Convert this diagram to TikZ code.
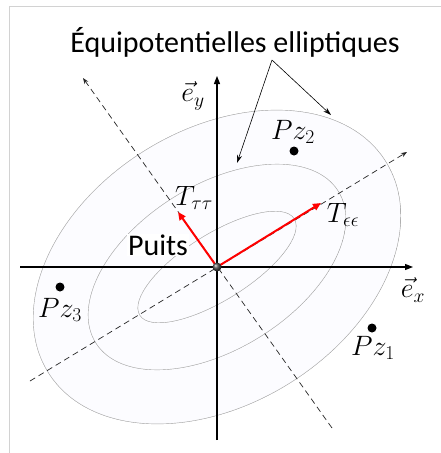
\RequirePackage{fix-cm}
\documentclass[tikz,border=0pt]{standalone}
\usepackage{fontspec}
\setmainfont{Carlito}
\usetikzlibrary{arrows.meta}
\newcommand\shellipse[2]{%
  \fill[gray!75, rotate around={32:(O)}] (O) ellipse [x radius=#1, y radius=#2];
  \begin{scope}
    \clip[rotate around={32:(O)}] (O) ellipse [x radius=#1, y radius=#2];
    \fill[gray!45, xshift=-1pt, yshift=0.4pt, rotate around={32:(O)}] (O) ellipse [x radius=#1, y radius=#2];
    \fill[gray!22, xshift=-2pt, yshift=0.8pt, rotate around={32:(O)}] (O) ellipse [x radius=#1, y radius=#2];
    \fill[gray!8, xshift=-3pt, yshift=1.2pt, rotate around={32:(O)}] (O) ellipse [x radius=#1, y radius=#2];
    \fill[white!99!blue, xshift=-4pt, yshift=1.6pt, rotate around={32:(O)}] (O) ellipse [x radius=#1, y radius=#2];
  \end{scope}
  \draw[gray!70, line width=0.4pt, rotate around={32:(O)}] (O) ellipse [x radius=#1, y radius=#2];
}
\begin{document}
\begin{tikzpicture}[x=1pt,y=-1pt,
  lbl/.style={font=\fontsize{28}{32}\selectfont, inner sep=1pt},
  txt/.style={font=\fontsize{30}{34}\selectfont},
  axis/.style={line width=1.3pt, -{Triangle[length=8pt,width=6pt]}},
  dashax/.style={gray!30!black, line width=0.7pt, dash pattern=on 6pt off 4pt, -{Stealth[length=6pt,width=4.5pt]}},
  thinarr/.style={black, line width=0.6pt, -{Stealth[length=8pt,width=5pt]}},
  redarr/.style={red, line width=2pt, -{Triangle[length=8pt,width=7pt]}},
  pzdot/.style={circle, fill=black, inner sep=0pt, minimum size=9pt}]
\useasboundingbox (0,0) rectangle (441,453);
\fill[white] (0,0) rectangle (441,453);
\draw[gray!35, line width=1pt] (9,453) -- (9,6) -- (441,6);

\coordinate (O) at (217,267);

\shellipse{199}{137}
\shellipse{143}{82}
\shellipse{91}{33}

% dashed principal axes
\coordinate (ma1) at (30,381);
\coordinate (ma2) at (407,152);
\coordinate (mi1) at (332,428);
\coordinate (mi2) at (83,78);
\draw[dashax] (ma1) -- (ma2);
\draw[dashax] (mi1) -- (mi2);

% axes
\coordinate (xa1) at (20,267);
\coordinate (xa2) at (413,267);
\coordinate (ya1) at (217,440);
\coordinate (ya2) at (217,76);
\draw[axis] (xa1) -- (xa2);
\draw[axis] (ya1) -- (ya2);

% title and arrows
\node[txt, inner sep=0pt] (title) at (235,42) {Équipotentielles elliptiques};
\coordinate (tA) at (272,60);
\coordinate (t1) at (237,163);
\coordinate (t2) at (331,115);
\draw[thinarr] (tA) -- (t1);
\draw[thinarr] (tA) -- (t2);

% red tensors
\coordinate (Ttip) at (178,212);
\coordinate (Etip) at (321,203);
\draw[redarr] (O) -- (Ttip);
\draw[redarr] (O) -- (Etip);

% dots
\node[pzdot] (d2) at (294,151) {};
\node[pzdot] (d1) at (372,328) {};
\node[pzdot] (d3) at (60,287) {};
\node[circle, inner sep=0pt, minimum size=9pt, ball color=gray!60!black] (puitsdot) at (O) {};

% labels
\node[lbl] (ey) at (193,96) {$\vec{e}_y$};
\node[lbl] (ex) at (413,290) {$\vec{e}_x$};
\node[lbl] (pz2) at (293,132) {$Pz_2$};
\node[lbl] (pz1) at (373,348) {$Pz_1$};
\node[lbl] (pz3) at (60,310) {$Pz_3$};
\node[lbl] (ttt) at (194,198) {$T_{\tau\tau}$};
\node[lbl] (tee) at (343,215) {$T_{\epsilon\epsilon}$};
\node[txt, fill=white, inner sep=1pt] (puits) at (158,245) {Puits};
\end{tikzpicture}
\end{document}
